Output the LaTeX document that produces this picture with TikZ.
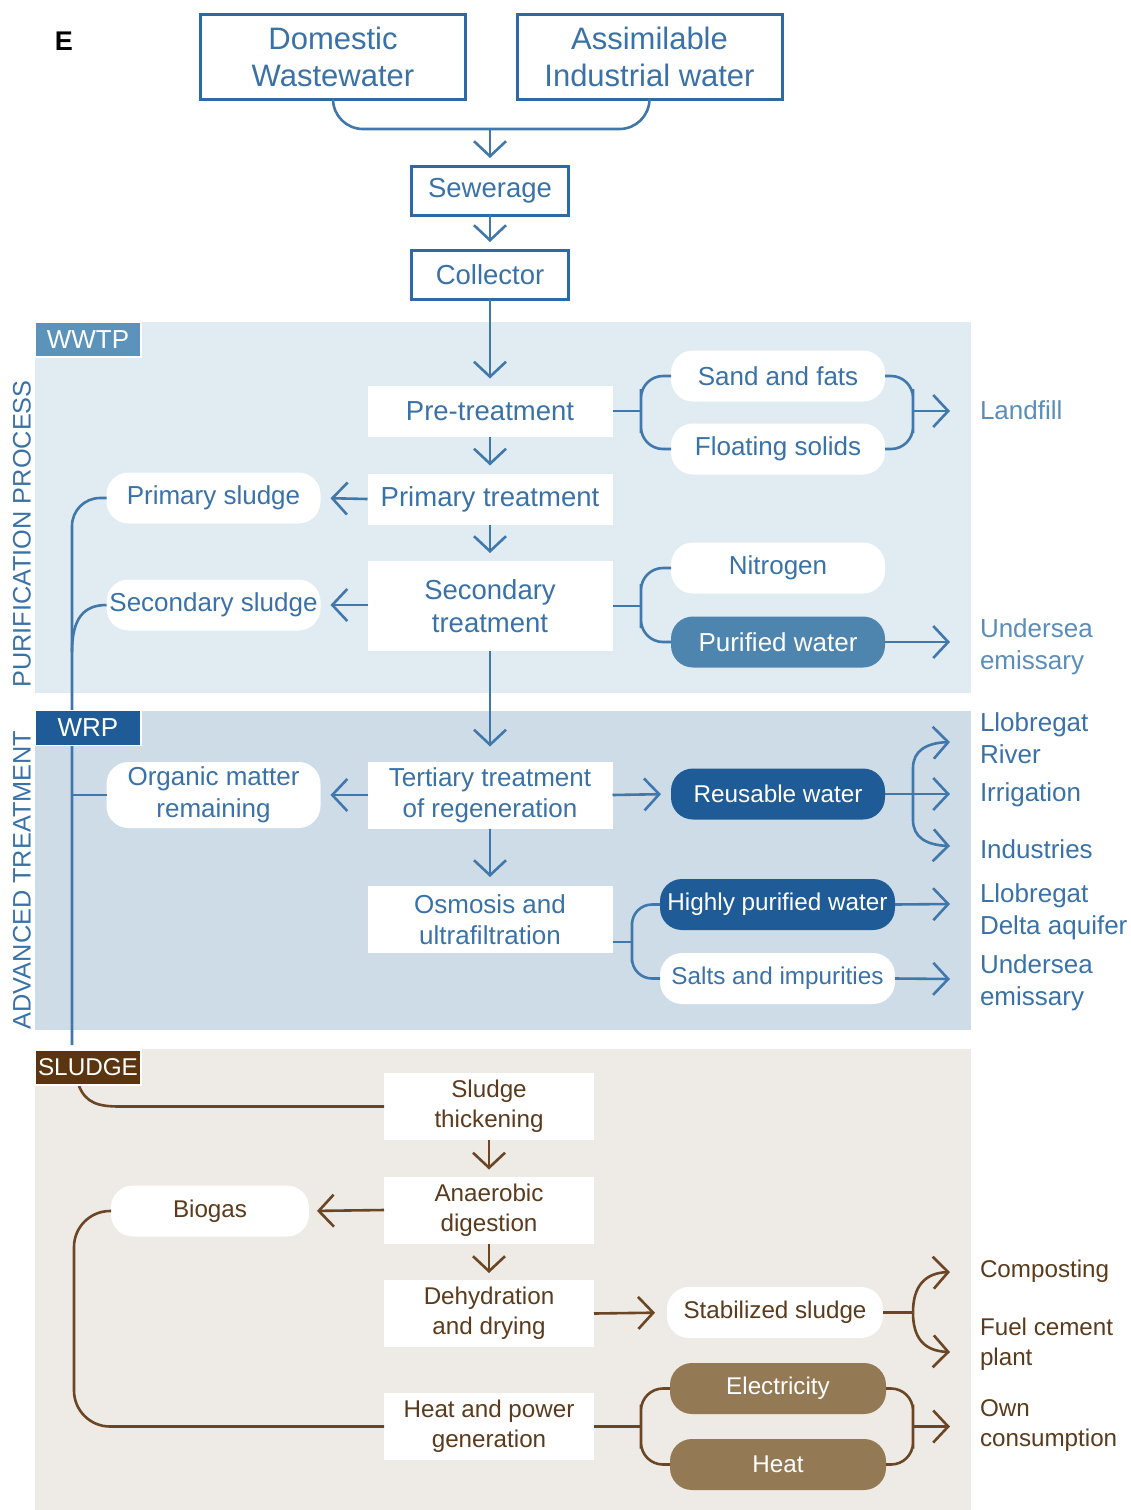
\documentclass[tikz,border=0pt]{standalone}
\usepackage{fontspec}
\setmainfont{Liberation Sans}
\usetikzlibrary{arrows.meta}
\definecolor{bluetx}{HTML}{3A72A8}
\definecolor{bluebd}{HTML}{2D6AA4}
\definecolor{blueln}{HTML}{4178AC}
\definecolor{bluelt}{HTML}{5B8DBA}
\definecolor{pnlA}{HTML}{E1EBF2}
\definecolor{pnlB}{HTML}{CEDCE8}
\definecolor{pnlC}{HTML}{EEEAE5}
\definecolor{tagA}{HTML}{5B93BA}
\definecolor{darkb}{HTML}{1F5C97}
\definecolor{medb}{HTML}{4E85AF}
\definecolor{browntx}{HTML}{5B3B1C}
\definecolor{brownln}{HTML}{6B4625}
\definecolor{tanfill}{HTML}{937A55}
\definecolor{tagC}{HTML}{5A350F}
\newcommand\fz[2]{\fontsize{#1}{#2}\selectfont}
\begin{document}
\begin{tikzpicture}[x=1pt,y=-1pt,
 every node/.style={inner sep=0pt,outer sep=0pt},
 bl/.style={draw=blueln,line width=2.6pt},
 br/.style={draw=brownln,line width=2.6pt},
 tip/.style={-{Straight Barb[length=15pt,width=32pt]}},
 topbox/.style={draw=bluebd,line width=3pt,fill=white,text=bluetx,align=center,minimum width=265pt,minimum height=85pt,font=\fz{31}{37}},
 midbox/.style={topbox,minimum width=157pt,minimum height=49pt,font=\fz{27.5}{33}},
 procA/.style={fill=white,text=bluetx,align=center,minimum width=245pt,minimum height=51pt,font=\fz{27.5}{33}},
 procB/.style={procA,minimum height=67pt,font=\fz{26}{31}},
 bubA/.style={fill=white,text=bluetx,rounded corners=22pt,align=center,minimum width=214pt,minimum height=51pt,font=\fz{26}{32}},
 bubD/.style={bubA,fill=darkb,text=white,font=\fz{24.3}{30}},
 rlab/.style={anchor=west,align=left,text=bluetx,font=\fz{26}{31.5}},
 blab/.style={anchor=west,align=left,text=browntx,font=\fz{24.2}{30}},
 procC/.style={fill=white,text=browntx,align=center,minimum width=210pt,minimum height=67pt,font=\fz{24.2}{30}},
 bubC/.style={fill=white,text=browntx,rounded corners=22pt,align=center,minimum width=216pt,minimum height=51pt,font=\fz{24.2}{30}},
 bubT/.style={bubC,fill=tanfill,text=white},
 tag/.style={text=white,draw=white,line width=1.5pt,minimum width=106pt,minimum height=35pt,font=\fz{26}{30}},
 side/.style={rotate=90,text=bluetx,font=\fz{25.3}{30}}
]
\useasboundingbox (0,0) rectangle (1131,1510);
% panels
\fill[pnlA] (35,322) rectangle (971,693);
\fill[pnlB] (35,711) rectangle (971,1030);
\fill[pnlC] (35,1049) rectangle (971,1510);
\node[side] (pp) at (22,534) {PURIFICATION PROCESS};
\node[side] (at) at (22,880) {ADVANCED TREATMENT};
\node[font=\fz{27}{30}\bfseries] (elabel) at (64,41) {E};

% top
\node[topbox] (dom) at (333,56.5) {Domestic\\Wastewater};
\node[topbox] (ass) at (649.5,56.5) {Assimilable\\Industrial water};
\coordinate (mj) at (490,129);
\draw[bl,rounded corners=30pt] (dom.south) -- (dom.south |- mj) -- (ass.south |- mj) -- (ass.south);
\node[midbox] (sew) at (490,190.5) {Sewerage};
\node[midbox] (col) at (490,274.5) {Collector};
\draw[bl,tip,shorten >=8pt] (mj) -- (sew.north);
\draw[bl,tip,shorten >=8pt] (sew.south) -- (col.north);

% WWTP
\node[procA] (pre) at (490,411) {Pre-treatment};
\node[procA] (pri) at (490,499) {Primary treatment};
\node[procA,minimum height=90pt] (sec) at (490,606) {Secondary\\treatment};
\draw[bl,tip,shorten >=7pt] (col.south) -- (pre.north);
\draw[bl,tip,shorten >=8pt] (pre.south) -- (pri.north);
\draw[bl,tip,shorten >=8pt] (pri.south) -- (sec.north);

\node[bubA] (psl) at (213.5,498) {Primary sludge};
\node[bubA] (ssl) at (213.5,605) {Secondary sludge};
\draw[bl,tip,shorten >=10pt] (pri.west) -- (psl.east);
\draw[bl,tip,shorten >=10pt] (sec.west |- ssl.east) -- (ssl.east);

\node[bubA] (sand) at (778,376) {Sand and fats};
\node[bubA] (flo) at (778,449) {Floating solids};
\node[bubA] (nit) at (778,568) {Nitrogen};
\node[bubA,fill=medb,text=white] (pur) at (778,642) {Purified water};

\coordinate (lb1) at (641,411);
\draw[bl] (pre.east) -- (lb1);
\draw[bl,rounded corners=22pt] (sand.west) -| (lb1) |- (flo.west);
\coordinate (rb1) at (913,411);
\draw[bl,rounded corners=22pt] (sand.east) -| (rb1) |- (flo.east);
\coordinate (aLand) at (950,411);
\draw[bl,tip] (rb1) -- (aLand);

\coordinate (lb2) at (641,606);
\draw[bl] (sec.east) -- (lb2);
\draw[bl,rounded corners=22pt] (nit.west) -| (lb2) |- (pur.west);
\coordinate (aUnd1) at (950,642);
\draw[bl,tip] (pur.east) -- (aUnd1);

\node[rlab,text=bluelt] (land) at (980,410) {Landfill};
\node[rlab,text=bluelt] (und1) at (980,647) {Undersea\\emissary};

% WRP
\node[procB] (ter) at (490,795) {Tertiary treatment\\of regeneration};
\node[procB] (osm) at (490,919.5) {Osmosis and\\ultrafiltration};
\draw[bl,tip,shorten >=15pt] (sec.south) -- (ter.north);
\draw[bl,tip,shorten >=9pt] (ter.south) -- (osm.north);

\node[bubA,minimum height=66pt] (om) at (213.5,795) {Organic matter\\remaining};
\draw[bl,tip,shorten >=10pt] (ter.west) -- (om.east);

\node[bubD] (reu) at (778,794) {Reusable water};
\node[bubD,minimum width=235pt] (hpw) at (777.5,904.5) {Highly purified water};
\node[bubA,minimum width=235pt,font=\fz{24.3}{30}] (sal) at (777.5,978.5) {Salts and impurities};

\draw[bl,tip,shorten >=10pt] (ter.east) -- (reu.west);
\coordinate (aIrr) at (950,794);
\draw[bl,tip] (reu.east) -- (aIrr);
\coordinate (rj) at (913,794);
\coordinate (aRiv) at (950,742);
\coordinate (aInd) at (950,846);
\draw[bl,tip] (rj) -- (913,768) .. controls (913,751) and (926,743) .. (aRiv);
\draw[bl,tip] (rj) -- (913,820) .. controls (913,837) and (926,845) .. (aInd);

\coordinate (oj) at (632,942);
\draw[bl] (oj -| osm.east) -- (oj);
\draw[bl,rounded corners=20pt] (hpw.west) -| (oj) |- (sal.west);
\coordinate (aAq) at (950,904);
\coordinate (aUnd2) at (950,979);
\draw[bl,tip] (hpw.east) -- (aAq);
\draw[bl,tip] (sal.east) -- (aUnd2);

\node[rlab] (riv) at (980,738) {Llobregat\\River};
\node[rlab] (irr) at (980,795) {Irrigation};
\node[rlab] (ind) at (980,849) {Industries};
\node[rlab] (aq) at (980,912) {Llobregat\\Delta aquifer};
\node[rlab] (und2) at (980,983) {Undersea\\emissary};

% left collector line
\coordinate (vbot) at (72,1045);
\draw[bl,rounded corners=28pt] (psl.west) -| (vbot);
\draw[bl] (ssl.west) .. controls (84,605) and (72,618) .. (72,652);
\draw[bl] (om.west -| vbot) -- (om.west);

% SLUDGE
\node[procC] (thick) at (489,1106.5) {Sludge\\thickening};
\node[procC] (anae) at (489,1210) {Anaerobic\\digestion};
\node[procC] (deh) at (489,1313.5) {Dehydration\\and drying};
\node[procC] (hp) at (489,1426.5) {Heat and power\\generation};
\draw[br] (79,1086) .. controls (86,1103) and (98,1106.5) .. (120,1106.5) -- (thick.west);
\draw[br,tip,shorten >=7pt] (thick.south) -- (anae.north);
\draw[br,tip,shorten >=7pt] (anae.south) -- (deh.north);

\node[bubC,minimum width=198pt] (bio) at (210,1211) {Biogas};
\draw[br,tip,shorten >=8pt] (anae.west) -- (bio.east);
\coordinate (lc) at (74,1320);
\draw[br,rounded corners=36pt] (bio.west) -| (lc) |- (hp.west);

\node[bubC] (stab) at (775,1312.5) {Stabilized sludge};
\draw[br,tip,shorten >=12pt] (deh.east) -- (stab.west);
\coordinate (sj) at (913,1312.5);
\coordinate (aComp) at (950,1272);
\coordinate (aFuel) at (950,1352);
\draw[br] (stab.east) -- (sj);
\draw[br,tip] (sj) .. controls (913,1286) and (925,1273) .. (aComp);
\draw[br,tip] (sj) .. controls (913,1339) and (925,1351) .. (aFuel);

\node[bubT] (elec) at (778,1388.5) {Electricity};
\node[bubT] (heat) at (778,1464.5) {Heat};
\coordinate (hj) at (641,1426.5);
\draw[br] (hp.east) -- (hj);
\draw[br,rounded corners=22pt] (elec.west) -| (hj) |- (heat.west);
\coordinate (ej) at (913,1426.5);
\draw[br,rounded corners=22pt] (elec.east) -| (ej) |- (heat.east);
\coordinate (aOwn) at (950,1426.5);
\draw[br,tip] (ej) -- (aOwn);

\node[blab] (comp) at (980,1271) {Composting};
\node[blab] (fuel) at (980,1344) {Fuel cement\\plant};
\node[blab] (own) at (980,1426) {Own\\consumption};

% section tags (drawn last, over the lines)
\node[tag,fill=tagA] (wwtp) at (88,339.5) {WWTP};
\node[tag,fill=darkb] (wrp) at (88,728) {WRP};
\node[tag,fill=tagC,font=\fz{24.3}{30}] (sludge) at (88,1067.5) {SLUDGE};
\end{tikzpicture}
\end{document}
